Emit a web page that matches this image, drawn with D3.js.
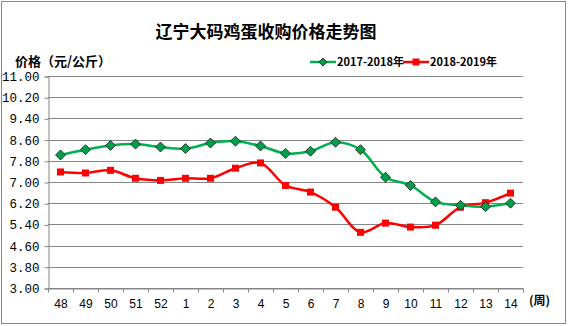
<!DOCTYPE html>
<html><head><meta charset="utf-8">
<script src="https://cdn.jsdelivr.net/npm/d3@7"></script>
<style>body{margin:0;background:#fff}svg{display:block}</style>
</head><body>
<svg id="c" width="568" height="326"></svg>
<script>
const weeks = ["48","49","50","51","52","1","2","3","4","5","6","7","8","9","10","11","12","13","14"];
const series1Name = "2017-2018年";
const series1 = [8.02,8.22,8.38,8.43,8.32,8.26,8.47,8.54,8.36,8.08,8.16,8.50,8.22,7.18,6.87,6.25,6.12,6.07,6.20];
const series2Name = "2018-2019年";
const series2 = [7.38,7.34,7.44,7.14,7.06,7.14,7.14,7.52,7.72,6.87,6.62,6.05,5.10,5.45,5.30,5.37,6.05,6.22,6.58];
const yTicks = [3.0,3.8,4.6,5.4,6.2,7.0,7.8,8.6,9.4,10.2,11.0];

const svg = d3.select("#c");
const font = "'Noto Sans CJK SC', sans-serif";
svg.append("rect").attr("x",1.5).attr("y",1.5).attr("width",564).attr("height",322)
  .attr("fill","#fff").attr("stroke","#888").attr("stroke-width",1);

const L=48, R=523, T=76, B=288;
const x = d3.scaleBand().domain(weeks).range([L,R]);
const y = d3.scaleLinear().domain([3,11]).range([B,T]);

// gridlines
svg.append("g").selectAll("line").data(yTicks).join("line")
  .attr("x1",L).attr("x2",R).attr("y1",d=>Math.round(y(d))+0.5).attr("y2",d=>Math.round(y(d))+0.5)
  .attr("stroke","#868686").attr("stroke-width",1);

// y axis
const ya = svg.append("g").attr("transform",`translate(${L+0.5},0.5)`)
  .call(d3.axisLeft(y).tickValues(yTicks).tickFormat(d3.format(".2f")).tickSize(4).tickPadding(5));
ya.select(".domain").attr("stroke","#868686");
ya.selectAll(".tick line").attr("stroke","#868686");
ya.selectAll("text").attr("font-family","'Liberation Mono', 'DejaVu Sans Mono', monospace").attr("font-size",12.5).attr("fill","#000");

// x axis
const xa = svg.append("g").attr("transform",`translate(0.5,${B+0.5})`)
  .call(d3.axisBottom(x).tickSize(0).tickPadding(11));
xa.select(".domain").attr("stroke","#868686");
xa.selectAll("text").attr("font-family","'Liberation Sans', Arial, sans-serif").attr("font-size",12).attr("fill","#000");
// boundary ticks
const bounds = weeks.map(w=>x(w)).concat([R]);
xa.append("g").selectAll("line").data(bounds).join("line")
  .attr("x1",d=>Math.round(d)).attr("x2",d=>Math.round(d)).attr("y1",0).attr("y2",4).attr("stroke","#868686");

svg.append("text").attr("x",529).attr("y",305).attr("font-family",font).attr("font-size",12).attr("font-weight","bold").text("(周)");

const cx = d=>x(d)+x.bandwidth()/2;
const line = d3.line().x((d,i)=>cx(weeks[i])).y(d=>y(d)).curve(d3.curveCatmullRom.alpha(0.5));

svg.append("path").datum(series2).attr("d",line).attr("fill","none").attr("stroke","#ff0000").attr("stroke-width",2.5);
svg.append("path").datum(series1).attr("d",line).attr("fill","none").attr("stroke","#00b050").attr("stroke-width",2.5);

svg.append("g").selectAll("rect").data(series2).join("rect")
  .attr("x",(d,i)=>cx(weeks[i])-3.5).attr("y",d=>y(d)-3.5).attr("width",7).attr("height",7).attr("fill","#ff0000");

const diamond = (px,py,r)=>`M${px},${py-r}L${px+r},${py}L${px},${py+r}L${px-r},${py}Z`;
svg.append("g").selectAll("path").data(series1).join("path")
  .attr("d",(d,i)=>diamond(cx(weeks[i]),y(d),5)).attr("fill","#00a04a").attr("stroke","#1a1a1a").attr("stroke-width",0.8);

// title
svg.append("text").attr("x",266).attr("y",38).attr("text-anchor","middle").attr("font-family",font)
  .attr("font-size",17).attr("font-weight","bold").text("辽宁大码鸡蛋收购价格走势图");
svg.append("text").attr("x",15).attr("y",66).attr("font-family",font).attr("font-size",13).attr("font-weight","bold").text("价格（元/公斤）");

// legend
const lg = svg.append("g").attr("font-family",font).attr("font-size",11).attr("font-weight","bold");
lg.append("line").attr("x1",310).attr("x2",336).attr("y1",62).attr("y2",62).attr("stroke","#00b050").attr("stroke-width",2.5);
lg.append("path").attr("d",diamond(323,62,4)).attr("fill","#00a04a").attr("stroke","#1a1a1a").attr("stroke-width",0.8);
lg.append("text").attr("x",337).attr("y",66).text(series1Name);
lg.append("line").attr("x1",403).attr("x2",429).attr("y1",62).attr("y2",62).attr("stroke","#ff0000").attr("stroke-width",2.5);
lg.append("rect").attr("x",412.5).attr("y",58.5).attr("width",7).attr("height",7).attr("fill","#ff0000");
lg.append("text").attr("x",430).attr("y",66).text(series2Name);
</script>
</body></html>
